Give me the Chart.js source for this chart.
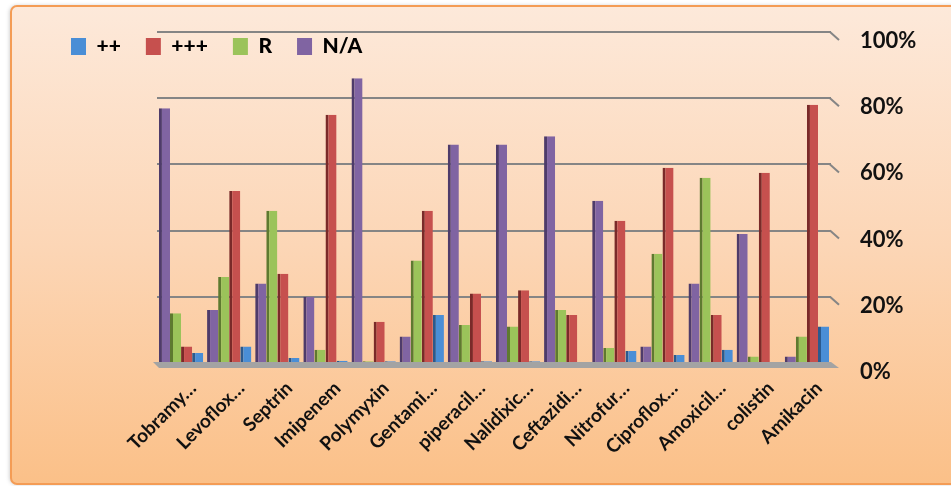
<!DOCTYPE html>
<html>
<head>
<meta charset="utf-8">
<script src="https://cdn.jsdelivr.net/npm/chart.js@4/dist/chart.umd.min.js"></script>
<style>
  html, body { margin: 0; padding: 0; background: #ffffff; overflow: hidden; }
  canvas { display: block; }
</style>
</head>
<body>
<canvas id="chart" width="951" height="486"></canvas>
<script>
// Antibiotic response categories, in percent of isolates
const drugs = ['Tobramy…', 'Levoflox…', 'Septrin', 'Imipenem', 'Polymyxin', 'Gentami…', 'piperacil…',
               'Nalidixic…', 'Ceftazidi…', 'Nitrofur…', 'Ciproflox…', 'Amoxicil…', 'colistin', 'Amikacin'];
const naValues   = [77, 16, 24, 20, 86, 8, 66, 66, 68.5, 49, 5, 24, 39, 2];
const rValues    = [15, 26, 46, 4, 0.5, 31, 11.5, 11, 16, 4.5, 33, 56, 2, 8];
const plus3Values = [5, 52, 27, 75, 12.5, 46, 21, 22, 14.5, 43, 59, 14.5, 57.5, 78];
const plus2Values = [3, 5, 1.5, 0.7, 0.5, 14.5, 0.5, 0.5, 0.3, 3.6, 2.4, 4, 0.3, 11];
const percentTicks = [0, 20, 40, 60, 80, 100];

const W = 951, H = 486;
const PLOT_LEFT = 157, PLOT_TOP = 32, PLOT_BOTTOM = 363, AXIS_W = 120;

function barSeries(label, data, fill, edge) {
  return {
    label, data,
    backgroundColor: fill,
    borderColor: edge,
    borderWidth: { left: 3, top: 0, right: 0, bottom: 0 },
    borderSkipped: false,
    categoryPercentage: 0.92,
    barPercentage: 1.0
  };
}

// Peach card with an orange rim behind the whole chart
const cardBackground = {
  id: 'cardBackground',
  beforeDraw(chart) {
    const ctx = chart.ctx;
    ctx.save();
    ctx.fillStyle = '#ffffff';
    ctx.fillRect(0, 0, W, H);
    const g = ctx.createLinearGradient(0, 6, 0, 484);
    g.addColorStop(0, '#fde9da');
    g.addColorStop(0.5, '#fcd6b6');
    g.addColorStop(1, '#fbc088');
    ctx.shadowColor = 'rgba(0,0,0,0.25)';
    ctx.shadowBlur = 4;
    ctx.shadowOffsetX = -1;
    ctx.beginPath();
    ctx.roundRect(11, 6, W + 30, 478, 6);
    ctx.fillStyle = g;
    ctx.fill();
    ctx.shadowColor = 'transparent';
    ctx.lineWidth = 2;
    ctx.strokeStyle = '#f49c55';
    ctx.stroke();
    ctx.restore();
  }
};

// Floor slab and the bent ends of the wall gridlines
const wallDetails = {
  id: 'wallDetails',
  beforeDatasetsDraw(chart) {
    const { ctx, chartArea: a, scales } = chart;
    ctx.save();
    ctx.strokeStyle = '#858585';
    ctx.lineWidth = 2;
    percentTicks.forEach(v => {
      if (v === 0) return;
      const y = scales.y.getPixelForValue(v);
      ctx.beginPath();
      ctx.moveTo(a.right - 1, y);
      ctx.lineTo(a.right + 8, y + 8);
      ctx.stroke();
    });
    const yb = scales.y.getPixelForValue(0);
    ctx.beginPath();
    ctx.moveTo(a.left - 4, yb - 1);
    ctx.lineTo(a.right, yb - 1);
    ctx.lineTo(a.right + 8, yb + 5);
    ctx.lineTo(a.left + 2, yb + 5);
    ctx.closePath();
    ctx.fillStyle = '#a3a3a3';
    ctx.fill();
    ctx.restore();
  }
};

// Legend is laid over the top-left corner of the card
const legendPlacement = {
  id: 'legendPlacement',
  afterLayout(chart) {
    const lg = chart.legend;
    lg.left = 46;
    lg.top = 11;
    lg.right = 600;
    lg.bottom = 80;
    lg.width = lg.right - lg.left;
    lg.height = lg.bottom - lg.top;
  }
};

new Chart(document.getElementById('chart'), {
  type: 'bar',
  data: {
    labels: drugs,
    datasets: [
      barSeries('N/A', naValues, '#8064a2', '#4e3b6a'),
      barSeries('R', rValues, '#9bc35a', '#5e7a30'),
      barSeries('+++', plus3Values, '#c6504e', '#7a2a29'),
      barSeries('++', plus2Values, '#4a8ed6', '#2b5a8e')
    ]
  },
  options: {
    responsive: false,
    animation: false,
    layout: { padding: { left: PLOT_LEFT, top: PLOT_TOP - 1, right: 0, bottom: 0 } },
    plugins: {
      tooltip: { enabled: false },
      legend: {
        position: 'top',
        align: 'start',
        reverse: true,
        maxHeight: 1,
        labels: {
          boxWidth: 15,
          boxHeight: 17,
          padding: 25,
          color: '#000000',
          font: { family: 'Lato', weight: '900', size: 21 },
          generateLabels(chart) {
            return Chart.defaults.plugins.legend.labels.generateLabels(chart)
              .map(item => Object.assign(item, { lineWidth: 0 }));
          }
        }
      }
    },
    scales: {
      x: {
        grid: { display: false },
        border: { display: false },
        ticks: {
          autoSkip: false,
          minRotation: 45,
          maxRotation: 45,
          labelOffset: 12,
          padding: 6,
          color: '#111111',
          font: { family: 'Lato', weight: 'bold', size: 19 }
        },
        afterFit(scale) { scale.height = H - PLOT_BOTTOM; }
      },
      y: {
        position: 'right',
        min: 0,
        max: 100,
        afterBuildTicks(scale) { scale.ticks = percentTicks.map(v => ({ value: v })); },
        grid: { color: '#858585', lineWidth: 2, drawTicks: false },
        border: { display: false },
        ticks: {
          padding: 29,
          labelOffset: 9,
          color: '#111111',
          font: { family: 'Lato', weight: 'bold', size: 22 },
          callback: v => v + '%'
        },
        afterFit(scale) {
          scale.width = AXIS_W;
          scale.paddingTop = 0;
          scale.paddingBottom = 0;
        }
      }
    }
  },
  plugins: [cardBackground, wallDetails, legendPlacement]
});
</script>
</body>
</html>
